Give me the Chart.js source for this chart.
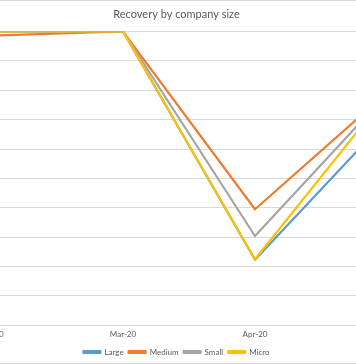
<!DOCTYPE html>
<html><head><meta charset="utf-8">
<script src="https://cdn.jsdelivr.net/npm/chart.js@4"></script>
<style>
html,body{margin:0;padding:0;overflow:hidden;background:#fff;width:356px;height:364px;}
#wrap{position:absolute;left:-105px;top:0;width:563px;height:366px;}
canvas{display:block;}
</style></head><body>
<div id="wrap"><canvas id="c" width="563" height="366" style="width:563px;height:366px"></canvas></div>
<script>
const categories = ['Feb-20', 'Mar-20', 'Apr-20', 'May-20'];
const seriesNames = ['Large', 'Medium', 'Small', 'Micro'];
const largeValues = [100, 100, 22.3, 70.1];
const mediumValues = [98.6, 100, 39.5, 79.2];
const smallValues = [100, 100, 30.4, 78.8];
const microValues = [100, 100, 22.5, 78.5];
const yTicks = [0, 10, 20, 30, 40, 50, 60, 70, 80, 90, 100];

const colors = ['#5B9BD5', '#ED7D31', '#A5A5A5', '#FFC000'];
const values = [largeValues, mediumValues, smallValues, microValues];
const FONT = 'Lato, "Liberation Sans", sans-serif';

const frame = {
  id: 'frame',
  beforeDraw(chart) {
    const c = chart.ctx;
    c.save();
    c.fillStyle = '#fff';
    c.fillRect(0, 0, chart.width, chart.height);
    c.restore();
  },
  afterDraw(chart) {
    const c = chart.ctx;
    c.save();
    c.strokeStyle = '#d9d9d9';
    c.lineWidth = 1;
    c.strokeRect(0.5, 0.5, chart.width - 1, 363);
    c.restore();
  }
};

new Chart(document.getElementById('c'), {
  type: 'line',
  data: {
    labels: categories,
    datasets: seriesNames.map((name, i) => ({
      label: name,
      data: values[i],
      borderColor: colors[i],
      backgroundColor: colors[i],
      borderWidth: 2.2,
      pointRadius: 0,
      tension: 0,
      fill: false,
      borderCapStyle: 'round',
      borderJoinStyle: 'round',
      order: seriesNames.length - 1 - i
    }))
  },
  options: {
    responsive: false,
    animation: false,
    layout: { padding: { left: 5, right: 5, top: 0, bottom: 0 } },
    plugins: {
      title: {
        display: true,
        text: 'Recovery by company size',
        color: '#595959',
        font: { family: FONT, size: 11, weight: 'normal' },
        padding: { top: 7.4, bottom: 10.9 }
      },
      legend: {
        position: 'bottom',
        labels: {
          boxWidth: 17,
          boxHeight: 2,
          padding: 5,
          color: '#595959',
          font: { family: FONT, size: 8 },
          sort: (a, b) => a.datasetIndex - b.datasetIndex
        }
      },
      tooltip: { enabled: false }
    },
    scales: {
      x: {
        offset: true,
        grid: { display: false, drawTicks: false },
        border: { display: false },
        ticks: { color: '#595959', font: { family: FONT, size: 8 }, padding: 4, maxRotation: 0 },
        afterFit: (s) => { s.height = 17.7; }
      },
      y: {
        min: yTicks[0],
        max: yTicks[yTicks.length - 1],
        grid: { color: '#d9d9d9', lineWidth: 1, drawTicks: false },
        border: { display: false },
        ticks: { stepSize: yTicks[1] - yTicks[0], color: '#595959', font: { family: FONT, size: 8 }, padding: 4 },
        afterFit: (s) => { s.width = 25; }
      }
    }
  },
  plugins: [frame]
});
</script>
</body></html>
